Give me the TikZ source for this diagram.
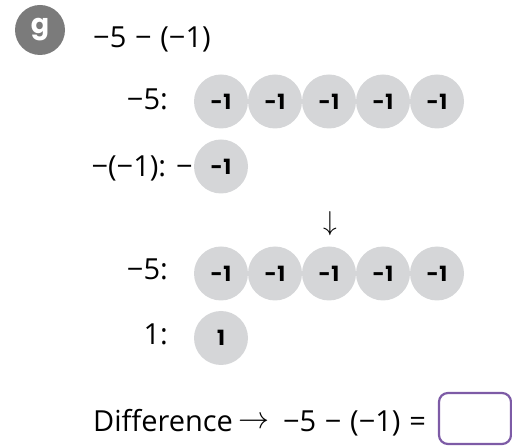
\documentclass[tikz,border=0pt]{standalone}
\usepackage{fontspec}
\usepackage{graphicx}
\setmainfont{Open Sans}
\newfontfamily\chipfont{Poppins}
\definecolor{chip}{HTML}{D5D6D8}
\definecolor{badge}{HTML}{7B7B7B}
\definecolor{ansbox}{HTML}{7D5BA6}
\newcommand{\chipneg}{−\kern1.5pt 1}
\newcommand{\wsp}{\hspace{0.3em}}
\tikzset{
  chipnode/.style={circle,fill=chip,minimum size=54pt,inner sep=0pt,font=\chipfont\fontsize{21}{24}\selectfont\bfseries},
  lbl/.style={inner sep=0pt,font=\fontsize{29}{33}\selectfont},
}
\begin{document}
\begin{tikzpicture}[x=1pt,y=-1pt]
\useasboundingbox (0,0) rectangle (512,446);
\clip (0,0) rectangle (512,446);
% badge
\node[circle,fill=badge,minimum size=50pt,inner sep=0pt,text=white,font=\chipfont\fontsize{27}{30}\selectfont\bfseries] (g) at (40,30) {\raisebox{-1pt}{g}};
\node[lbl,anchor=base west] (title) at (93,48) {−5\wsp−\wsp(−1)};
% row 1
\node[lbl,anchor=base east] (r1) at (168,110) {−5:};
\foreach \i in {0,...,4} {
  \node[chipnode] (a\i) at (221+54*\i,101.5) {\chipneg};
}
% row 2
\node[lbl,anchor=base east] (r2) at (193,177) {−(−1): −};
\node[chipnode] (b0) at (221,166.5) {\chipneg};
% arrow
\node[lbl] (down) at (330,224) {\resizebox{!}{19pt}{$\downarrow$}};
% row 3
\node[lbl,anchor=base east] (r3) at (168,280) {−5:};
\foreach \i in {0,...,4} {
  \node[chipnode] (c\i) at (221+54*\i,273.5) {\chipneg};
}
% row 4
\node[lbl,anchor=base east] (r4) at (168,345) {1:};
\node[chipnode] (d0) at (221,338) {1};
% bottom
\node[lbl,anchor=base west] (diff) at (93,432) {Difference};
\node[lbl,anchor=center] (arr) at (254,423) {\resizebox{31pt}{!}{$\rightarrow$}};
\node[lbl,anchor=base east] (expr) at (426,432) {−5\wsp−\wsp(−1)\wsp=};
\draw[ansbox,line width=2.2pt,rounded corners=9pt] (439,393) rectangle (511,444);
\end{tikzpicture}
\end{document}
